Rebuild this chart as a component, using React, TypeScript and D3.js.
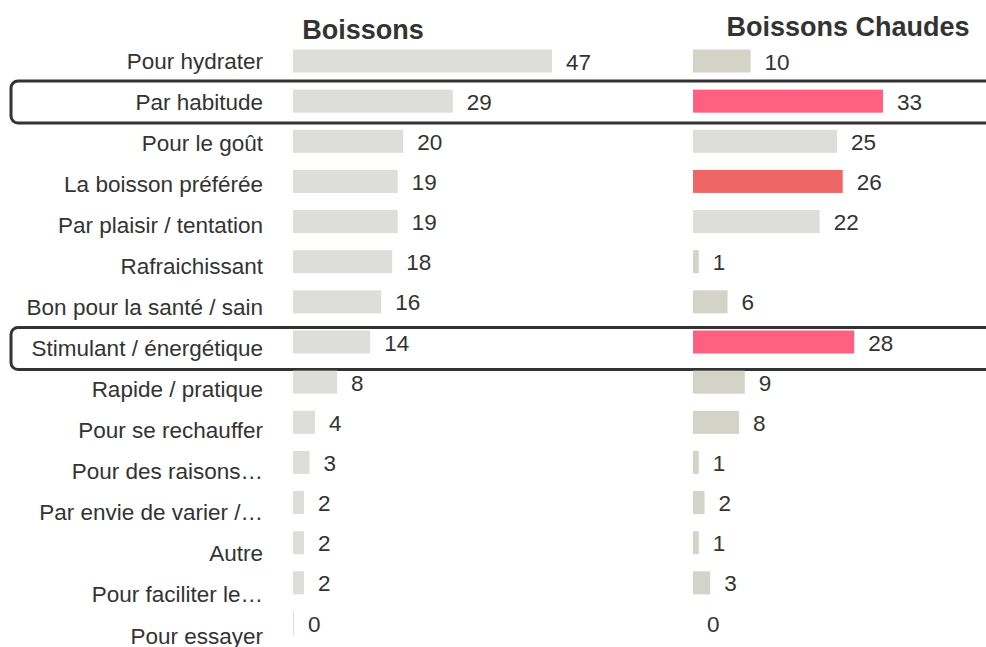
import React from 'react'
import * as d3 from 'd3'

// raisons de consommation (%)
const categories = [
  'Pour hydrater',
  'Par habitude',
  'Pour le goût',
  'La boisson préférée',
  'Par plaisir / tentation',
  'Rafraichissant',
  'Bon pour la santé / sain',
  'Stimulant / énergétique',
  'Rapide / pratique',
  'Pour se rechauffer',
  'Pour des raisons…',
  'Par envie de varier /…',
  'Autre',
  'Pour faciliter le…',
  'Pour essayer',
]
const boissons = [47, 29, 20, 19, 19, 18, 16, 14, 8, 4, 3, 2, 2, 2, 0]
const boissonsChaudes = [10, 33, 25, 26, 22, 1, 6, 28, 9, 8, 1, 2, 1, 3, 0]
const highlighted = ['Par habitude', 'Stimulant / énergétique']
const favourite = 'La boisson préférée'

const W = 986
const H = 647
const FONT = "'Liberation Sans', Arial, sans-serif"

const App = () => {
  // centres des barres et des libellés (pas légèrement différents)
  const yBar = d3.scalePoint<string>().domain(categories).range([61, 623])
  const yLabel = d3.scalePoint<string>().domain(categories).range([61, 636])

  const xLeft = d3.scaleLinear().domain([0, 47]).range([293, 552])
  const xRight = d3.scaleLinear().domain([0, 33]).range([693, 883])

  const barH = 23

  const rightColor = (cat: string, v: number) => {
    if (highlighted.includes(cat)) return '#ff6080'
    if (cat === favourite) return '#ee6666'
    return v >= 20 ? '#dddeda' : '#d3d3c8'
  }

  return (
    <svg
      width={W}
      height={H}
      style={{ position: 'absolute', left: 0, top: 0, background: '#fff', fontFamily: FONT }}
    >
      <text x={363} y={30} textAnchor="middle" dominantBaseline="central"
        fontSize={27} fontWeight="bold" fill="#333">Boissons</text>
      <text x={848} y={27} textAnchor="middle" dominantBaseline="central"
        fontSize={27} fontWeight="bold" fill="#333">Boissons Chaudes</text>

      {categories.map((c, i) => {
        const yb = yBar(c)!
        const yl = yLabel(c)!
        const vl = boissons[i]
        const vr = boissonsChaudes[i]
        const wl = Math.max(xLeft(vl) - xLeft(0), 1)
        const wr = xRight(vr) - xRight(0)
        return (
          <g key={c}>
            <text x={263} y={yl} textAnchor="end" dominantBaseline="central"
              fontSize={22.5} fill="#333">{c}</text>
            <rect x={xLeft(0)} y={yb - barH / 2} width={wl} height={barH} fill="#dddeda" />
            <text x={xLeft(0) + wl + 14} y={yb + 1} dominantBaseline="central"
              fontSize={22.5} fill="#333">{vl}</text>
            {wr > 0 && (
              <rect x={xRight(0)} y={yb - barH / 2} width={wr} height={barH} fill={rightColor(c, vr)} />
            )}
            <text x={xRight(0) + wr + 14} y={yb + 1} dominantBaseline="central"
              fontSize={22.5} fill="#333">{vr}</text>
            {highlighted.includes(c) && (
              <rect x={11} y={yl - 21} width={990} height={42} rx={7}
                fill="none" stroke="#333" strokeWidth={3} />
            )}
          </g>
        )
      })}
    </svg>
  )
}

export default App
